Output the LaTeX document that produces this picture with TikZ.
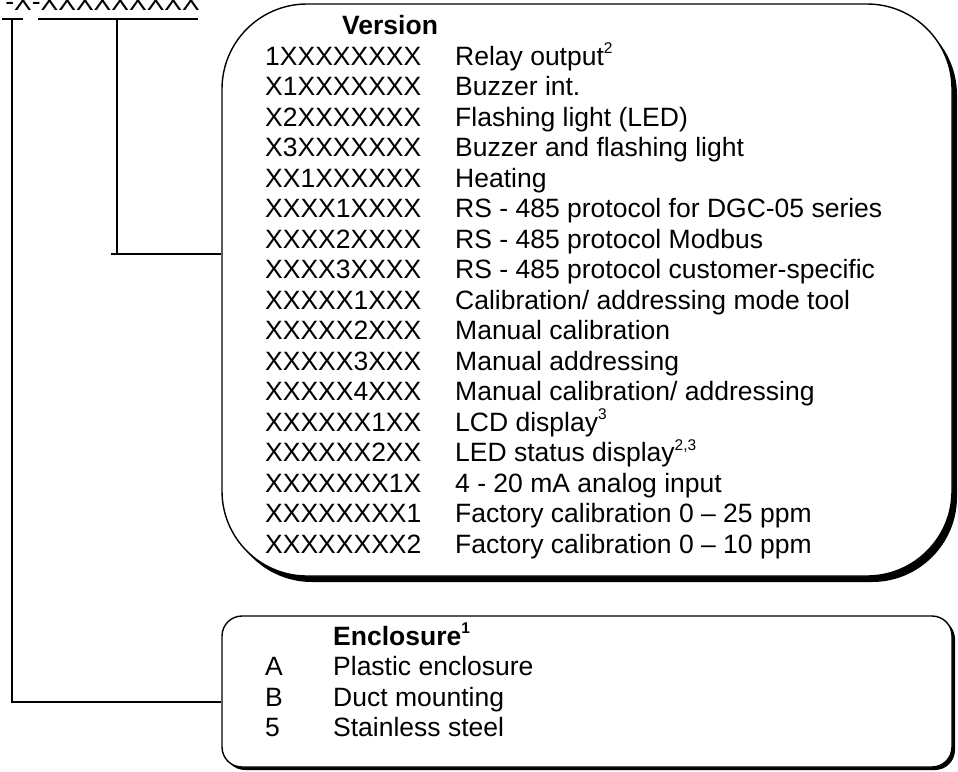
\documentclass[tikz,border=0pt]{standalone}
\usepackage{fontspec}
\setmainfont{Liberation Sans}
\usetikzlibrary{shadows}
\newcommand\supnum[1]{\raisebox{0.42em}{\fontsize{15.5}{15.5}\selectfont #1}}

\begin{document}
\begin{tikzpicture}[x=1pt,y=-1pt,
  txt/.style={inner sep=0pt, font=\fontsize{26.5}{30.5}\selectfont},
  head/.style={inner sep=0pt, font=\fontsize{26.5}{30.5}\selectfont\bfseries},
  wire/.style={line width=1.4pt},
  bigbox/.style={draw, line width=1.4pt, fill=white, inner sep=0pt, rounded corners=85pt,
    general shadow={fill=black, shadow xshift=5pt, shadow yshift=-6pt}},
  smallbox/.style={draw, line width=1.4pt, fill=white, inner sep=0pt, rounded corners=20pt,
    general shadow={fill=black, shadow xshift=3pt, shadow yshift=-3pt}}]
\useasboundingbox (0,0) rectangle (958,771);

% type code heading with its underlined positions
\node[txt, anchor=base east] (model) at (200,10) {-X-XXXXXXXXX};
\coordinate (u1a) at (2,19);  \coordinate (u1b) at (23,19);
\coordinate (u2a) at (38,19); \coordinate (u2b) at (198,19);
\draw[wire] (u1a) -- (u1b);
\draw[wire] (u2a) -- (u2b);
\coordinate (t1) at (12,19);
\coordinate (t2) at (117,19);

% option boxes
\node[bigbox, minimum width=730pt, minimum height=572pt] (ver) at (587,290) {};
\node[smallbox, minimum width=730pt, minimum height=151pt] (encl) at (587,691.5) {};

% version options
\node[head, anchor=base west] (vhead) at (342,34) {Version};
\foreach \code/\desc [count=\i] in {
  1XXXXXXXX/{Relay output\supnum{2}},
  X1XXXXXXX/{Buzzer int.},
  X2XXXXXXX/{Flashing light (LED)},
  X3XXXXXXX/{Buzzer and flashing light},
  XX1XXXXXX/{Heating},
  XXXX1XXXX/{RS - 485 protocol for DGC-05 series},
  XXXX2XXXX/{RS - 485 protocol Modbus},
  XXXX3XXXX/{RS - 485 protocol customer-specific},
  XXXXX1XXX/{Calibration/ addressing mode tool},
  XXXXX2XXX/{Manual calibration},
  XXXXX3XXX/{Manual addressing},
  XXXXX4XXX/{Manual calibration/ addressing},
  XXXXXX1XX/{LCD display\supnum{3}},
  XXXXXX2XX/{LED status display\supnum{2,3}},
  XXXXXXX1X/{4 - 20 mA analog input},
  XXXXXXXX1/{Factory calibration 0 – 25 ppm},
  XXXXXXXX2/{Factory calibration 0 – 10 ppm}} {
  \node[txt, anchor=base west] (vc\i) at (265,{65+30.5*(\i-1)}) {\code};
  \node[txt, anchor=base west] (vd\i) at (455,{65+30.5*(\i-1)}) {\desc};
}

% enclosure options
\node[head, anchor=base west] (ehead) at (333,645) {Enclosure\supnum{1}};
\foreach \code/\desc [count=\i] in {A/{Plastic enclosure}, B/{Duct mounting}, 5/{Stainless steel}} {
  \node[txt, anchor=base west] (ec\i) at (265,{675.5+30.5*(\i-1)}) {\code};
  \node[txt, anchor=base west] (ed\i) at (333,{675.5+30.5*(\i-1)}) {\desc};
}

% leader lines from the code positions to the boxes
\path (ver.west) ++(0,-36) coordinate (vin);
\path (encl.west) ++(0,10.5) coordinate (ein);
\coordinate (stub) at (111,254);
\draw[wire] (t2) -- (t2 |- vin);
\draw[wire] (stub) -- (vin);
\draw[wire] (t1) |- (ein);
\end{tikzpicture}
\end{document}
